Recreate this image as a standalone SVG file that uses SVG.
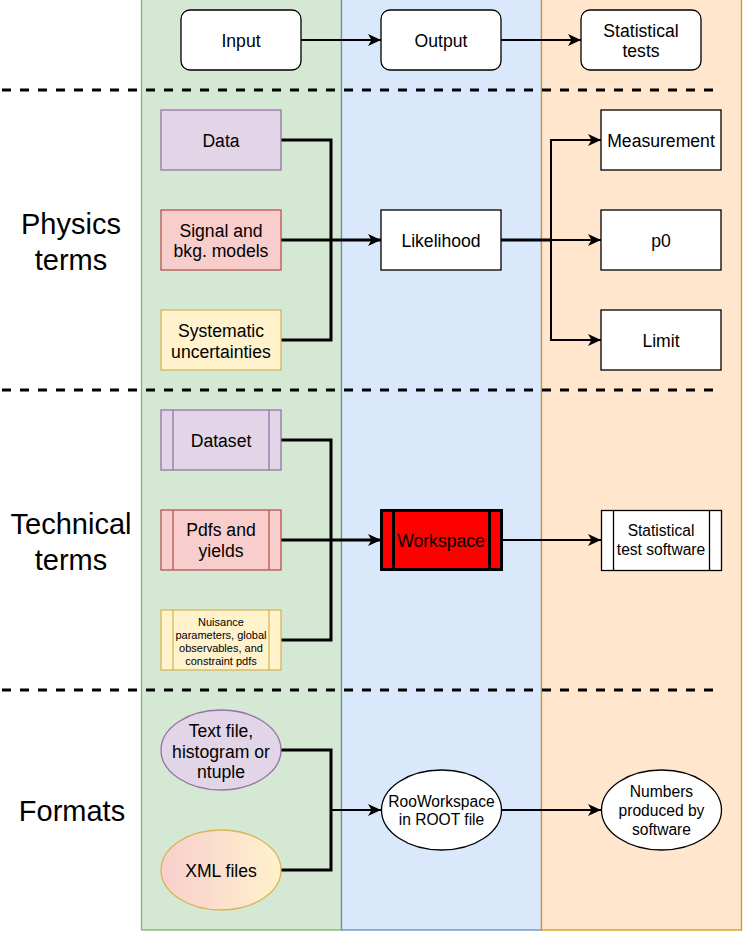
<svg xmlns="http://www.w3.org/2000/svg" width="743" height="932" viewBox="0 0 743 932">
<defs>
<marker id="arr" markerUnits="userSpaceOnUse" markerWidth="14" markerHeight="12" refX="13" refY="6" orient="auto" viewBox="0 0 14 12">
<path d="M0,0 L13,6 L0,12 L3.5,6 Z" fill="#000"/>
</marker>
<linearGradient id="gradXml" x1="0" y1="0" x2="1" y2="0">
<stop offset="0" stop-color="#f8cecc"/>
<stop offset="1" stop-color="#fff2cc"/>
</linearGradient>
<style>
text{font-family:"Liberation Sans",Arial,Helvetica,sans-serif;fill:#000;text-anchor:middle;dominant-baseline:central;transform:translateY(1px)}
.t{font-size:17.6px}
.m{font-size:15.6px}
.s{font-size:11px}
.big{font-size:29px}
.box{fill:#fff;stroke:#000;stroke-width:1.3}
.purple{fill:#e1d5e7;stroke:#9673a6;stroke-width:1.3}
.red{fill:#f8cecc;stroke:#b85450;stroke-width:1.3}
.yellow{fill:#fff2cc;stroke:#d6b656;stroke-width:1.3}
.conn{fill:none;stroke:#000;stroke-width:3}
.conn2{fill:none;stroke:#000;stroke-width:2}
.dash{fill:none;stroke:#000;stroke-width:3;stroke-dasharray:9 9}
</style>
</defs>

<g id="lanes">
<rect x="141.5" y="-2" width="200" height="932" fill="#d5e8d4" stroke="#82b366" stroke-width="1.3"/>
<rect x="341.5" y="-2" width="200" height="932" fill="#dae8fc" stroke="#6c8ebf" stroke-width="1.3"/>
<rect x="541.5" y="-2" width="200" height="932" fill="#ffe6cc" stroke="#d79b00" stroke-width="1.3"/>
</g>

<g id="separators">
<line class="dash" x1="2" y1="90" x2="722" y2="90"/>
<line class="dash" x1="2" y1="390" x2="722" y2="390"/>
<line class="dash" x1="2" y1="690" x2="722" y2="690"/>
</g>

<g id="row-labels">
<text class="big" x="71" y="223">Physics</text>
<text class="big" x="71" y="259">terms</text>
<text class="big" x="71" y="523">Technical</text>
<text class="big" x="71" y="559">terms</text>
<text class="big" x="72" y="810">Formats</text>
</g>

<g id="connectors">
<path class="conn2" d="M301,40 L381,40" marker-end="url(#arr)"/>
<path class="conn2" d="M501,40 L581,40" marker-end="url(#arr)"/>

<path class="conn" d="M281,140 L331,140 L331,240"/>
<path class="conn" d="M281,340 L331,340 L331,240"/>
<path class="conn" d="M281,240 L381,240" marker-end="url(#arr)"/>

<path class="conn" d="M501,240 L551,240"/>
<path class="conn2" d="M551,240 L551,140 L601,140" marker-end="url(#arr)"/>
<path class="conn2" d="M551,240 L601,240" marker-end="url(#arr)"/>
<path class="conn2" d="M551,240 L551,340 L601,340" marker-end="url(#arr)"/>

<path class="conn" d="M281,440 L331,440 L331,540"/>
<path class="conn" d="M281,640 L331,640 L331,540"/>
<path class="conn" d="M281,540 L381,540" marker-end="url(#arr)"/>
<path class="conn2" d="M501,540 L601,540" marker-end="url(#arr)"/>

<path class="conn" d="M281,750 L331,750 L331,810"/>
<path class="conn" d="M281,870 L331,870 L331,810"/>
<path class="conn2" d="M331,810 L381,810" marker-end="url(#arr)"/>
<path class="conn2" d="M501,810 L601,810" marker-end="url(#arr)"/>
</g>

<g id="input">
<rect class="box" x="181" y="10" width="120" height="60" rx="9"/>
<text class="t" x="241" y="40">Input</text>
</g>
<g id="output">
<rect class="box" x="381" y="10" width="120" height="60" rx="9"/>
<text class="t" x="441" y="40">Output</text>
</g>
<g id="statistical-tests">
<rect class="box" x="581" y="10" width="120" height="60" rx="9"/>
<text class="t" x="641" y="30">Statistical</text>
<text class="t" x="641" y="50">tests</text>
</g>

<g id="data">
<rect class="purple" x="161" y="110" width="120" height="60"/>
<text class="t" x="221" y="140">Data</text>
</g>
<g id="signal-models">
<rect class="red" x="161" y="210" width="120" height="60"/>
<text class="t" x="221" y="230">Signal and</text>
<text class="t" x="221" y="250">bkg. models</text>
</g>
<g id="systematics">
<rect class="yellow" x="161" y="310" width="120" height="60"/>
<text class="t" x="221" y="330">Systematic</text>
<text class="t" x="221" y="351">uncertainties</text>
</g>
<g id="likelihood">
<rect class="box" x="381" y="210" width="120" height="60"/>
<text class="t" x="441" y="240">Likelihood</text>
</g>
<g id="measurement">
<rect class="box" x="601" y="110" width="120" height="60"/>
<text class="t" x="661" y="140">Measurement</text>
</g>
<g id="p0">
<rect class="box" x="601" y="210" width="120" height="60"/>
<text class="t" x="661" y="240">p0</text>
</g>
<g id="limit">
<rect class="box" x="601" y="310" width="120" height="60"/>
<text class="t" x="661" y="340">Limit</text>
</g>

<g id="dataset">
<rect class="purple" x="161" y="410" width="120" height="60"/>
<line x1="173" y1="410" x2="173" y2="470" stroke="#9673a6" stroke-width="1.3"/>
<line x1="269" y1="410" x2="269" y2="470" stroke="#9673a6" stroke-width="1.3"/>
<text class="t" x="221" y="440">Dataset</text>
</g>
<g id="pdfs-yields">
<rect class="red" x="161" y="510" width="120" height="60"/>
<line x1="173" y1="510" x2="173" y2="570" stroke="#b85450" stroke-width="1.3"/>
<line x1="269" y1="510" x2="269" y2="570" stroke="#b85450" stroke-width="1.3"/>
<text class="t" x="221" y="529">Pdfs and</text>
<text class="t" x="221" y="550">yields</text>
</g>
<g id="nuisance">
<rect class="yellow" x="161" y="610" width="120" height="60"/>
<line x1="173" y1="610" x2="173" y2="670" stroke="#d6b656" stroke-width="1.3"/>
<line x1="269" y1="610" x2="269" y2="670" stroke="#d6b656" stroke-width="1.3"/>
<text class="s" x="221" y="620.5">Nuisance</text>
<text class="s" x="221" y="633.5">parameters, global</text>
<text class="s" x="221" y="646.5">observables, and</text>
<text class="s" x="221" y="659.5">constraint pdfs</text>
</g>
<g id="workspace">
<rect x="381.5" y="510.5" width="120" height="59" fill="#ff0000" stroke="#000" stroke-width="3"/>
<line x1="393.5" y1="510.5" x2="393.5" y2="569.5" stroke="#000" stroke-width="3"/>
<line x1="489.5" y1="510.5" x2="489.5" y2="569.5" stroke="#000" stroke-width="3"/>
<text class="t" x="441" y="540">Workspace</text>
</g>
<g id="test-software">
<rect class="box" x="601.5" y="510.5" width="120" height="60"/>
<line x1="613.5" y1="510.5" x2="613.5" y2="570.5" stroke="#000" stroke-width="1.3"/>
<line x1="709.5" y1="510.5" x2="709.5" y2="570.5" stroke="#000" stroke-width="1.3"/>
<text class="m" x="661" y="529.5">Statistical</text>
<text class="m" x="661" y="548.5">test software</text>
</g>

<g id="text-file">
<ellipse cx="221" cy="750" rx="60" ry="40" fill="#e1d5e7" stroke="#9673a6" stroke-width="1.3"/>
<text class="t" x="221" y="729.5">Text file,</text>
<text class="t" x="221" y="750.5">histogram or</text>
<text class="t" x="221" y="771">ntuple</text>
</g>
<g id="xml-files">
<ellipse cx="221" cy="870" rx="60" ry="40" fill="url(#gradXml)" stroke="#d6b656" stroke-width="1.3"/>
<text class="t" x="221" y="870">XML files</text>
</g>
<g id="rooworkspace">
<ellipse cx="441.5" cy="810" rx="60" ry="40" fill="#fff" stroke="#000" stroke-width="1.3"/>
<text class="m" x="441.5" y="800">RooWorkspace</text>
<text class="m" x="441.5" y="818">in ROOT file</text>
</g>
<g id="numbers">
<ellipse cx="661.5" cy="810" rx="60" ry="40" fill="#fff" stroke="#000" stroke-width="1.3"/>
<text class="m" x="661.5" y="790">Numbers</text>
<text class="m" x="661.5" y="809">produced by</text>
<text class="m" x="661.5" y="828">software</text>
</g>
</svg>
